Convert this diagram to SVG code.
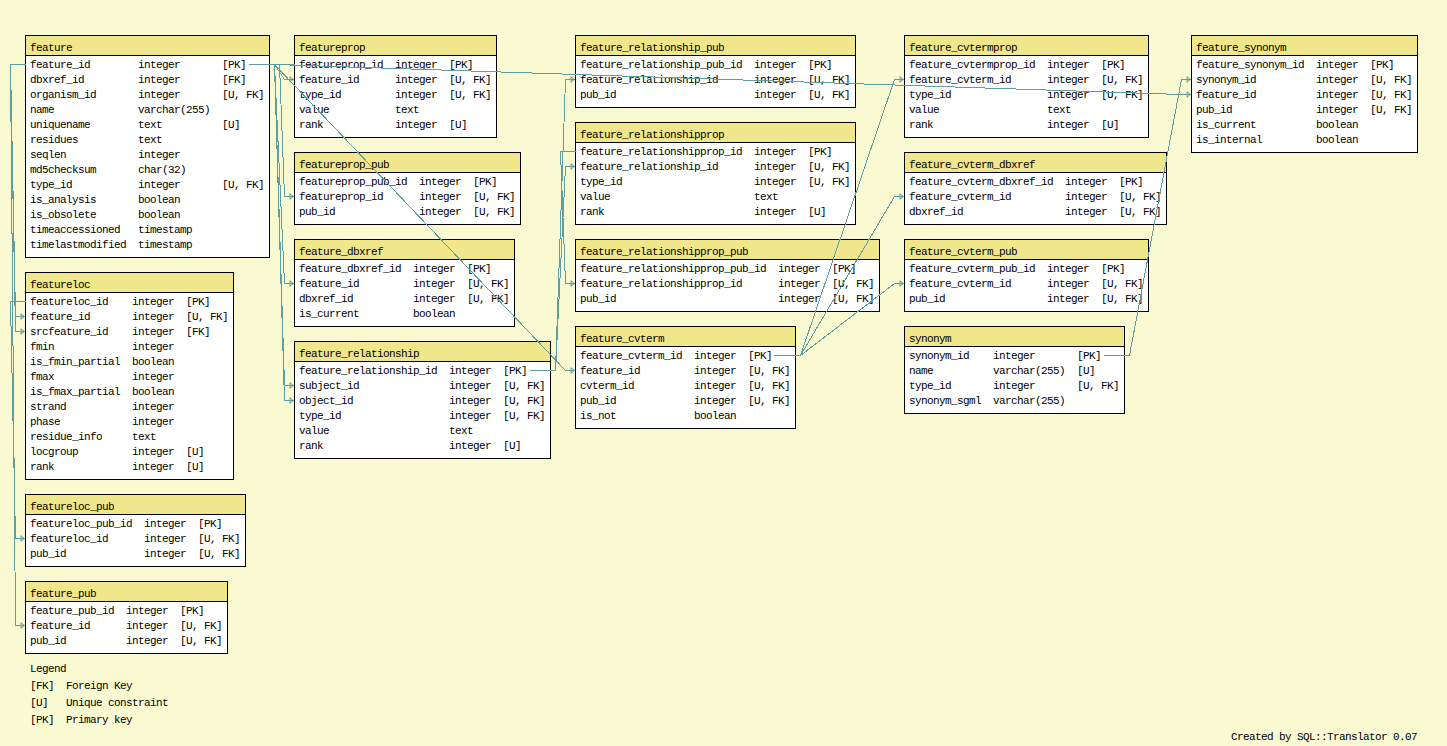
<svg xmlns="http://www.w3.org/2000/svg" width="1447" height="746" viewBox="0 0 1447 746">
  <style>
    .bg { fill: #FAFAD2; }
    .box { fill: #FFFFFF; stroke: #000000; stroke-width: 1; shape-rendering: crispEdges; }
    .hd { fill: #F0E68C; stroke: #000000; stroke-width: 1; shape-rendering: crispEdges; }
    text { font-family: "Liberation Mono", "DejaVu Sans Mono", monospace; font-size: 11px; letter-spacing: -0.6px; fill: #000000; }
    .rel { fill: none; stroke: #5F9EA0; stroke-width: 1; shape-rendering: crispEdges; }
  </style>
  <defs>
    <marker id="fk" viewBox="0 0 6 7" refX="5.5" refY="3.5" markerWidth="6" markerHeight="7" markerUnits="userSpaceOnUse" orient="auto">
      <path d="M1.5,0.5 L1.5,6.5 M1.5,1 L5,3.5 L1.5,6" fill="none" stroke="#5F9EA0" stroke-width="1"/>
    </marker>
  </defs>

  <rect class="bg" x="0" y="0" width="1447" height="746"/>

  <g id="feature">
    <rect class="box" x="25.5" y="35.5" width="244" height="222"/>
    <rect class="hd" x="25.5" y="35.5" width="244" height="20"/>
    <text x="30" y="51">feature</text>
    <text y="68"><tspan x="30">feature_id</tspan><tspan x="138">integer</tspan><tspan x="222">[PK]</tspan></text>
    <text y="83"><tspan x="30">dbxref_id</tspan><tspan x="138">integer</tspan><tspan x="222">[FK]</tspan></text>
    <text y="98"><tspan x="30">organism_id</tspan><tspan x="138">integer</tspan><tspan x="222">[U, FK]</tspan></text>
    <text y="113"><tspan x="30">name</tspan><tspan x="138">varchar(255)</tspan></text>
    <text y="128"><tspan x="30">uniquename</tspan><tspan x="138">text</tspan><tspan x="222">[U]</tspan></text>
    <text y="143"><tspan x="30">residues</tspan><tspan x="138">text</tspan></text>
    <text y="158"><tspan x="30">seqlen</tspan><tspan x="138">integer</tspan></text>
    <text y="173"><tspan x="30">md5checksum</tspan><tspan x="138">char(32)</tspan></text>
    <text y="188"><tspan x="30">type_id</tspan><tspan x="138">integer</tspan><tspan x="222">[U, FK]</tspan></text>
    <text y="203"><tspan x="30">is_analysis</tspan><tspan x="138">boolean</tspan></text>
    <text y="218"><tspan x="30">is_obsolete</tspan><tspan x="138">boolean</tspan></text>
    <text y="233"><tspan x="30">timeaccessioned</tspan><tspan x="138">timestamp</tspan></text>
    <text y="248"><tspan x="30">timelastmodified</tspan><tspan x="138">timestamp</tspan></text>
  </g>

  <g id="featureprop">
    <rect class="box" x="294.5" y="35.5" width="202" height="102"/>
    <rect class="hd" x="294.5" y="35.5" width="202" height="20"/>
    <text x="299" y="51">featureprop</text>
    <text y="68"><tspan x="299">featureprop_id</tspan><tspan x="395">integer</tspan><tspan x="449">[PK]</tspan></text>
    <text y="83"><tspan x="299">feature_id</tspan><tspan x="395">integer</tspan><tspan x="449">[U, FK]</tspan></text>
    <text y="98"><tspan x="299">type_id</tspan><tspan x="395">integer</tspan><tspan x="449">[U, FK]</tspan></text>
    <text y="113"><tspan x="299">value</tspan><tspan x="395">text</tspan></text>
    <text y="128"><tspan x="299">rank</tspan><tspan x="395">integer</tspan><tspan x="449">[U]</tspan></text>
  </g>

  <g id="featureprop_pub">
    <rect class="box" x="294.5" y="152.5" width="226" height="72"/>
    <rect class="hd" x="294.5" y="152.5" width="226" height="20"/>
    <text x="299" y="168">featureprop_pub</text>
    <text y="185"><tspan x="299">featureprop_pub_id</tspan><tspan x="419">integer</tspan><tspan x="473">[PK]</tspan></text>
    <text y="200"><tspan x="299">featureprop_id</tspan><tspan x="419">integer</tspan><tspan x="473">[U, FK]</tspan></text>
    <text y="215"><tspan x="299">pub_id</tspan><tspan x="419">integer</tspan><tspan x="473">[U, FK]</tspan></text>
  </g>

  <g id="feature_dbxref">
    <rect class="box" x="294.5" y="239.5" width="220" height="87"/>
    <rect class="hd" x="294.5" y="239.5" width="220" height="20"/>
    <text x="299" y="255">feature_dbxref</text>
    <text y="272"><tspan x="299">feature_dbxref_id</tspan><tspan x="413">integer</tspan><tspan x="467">[PK]</tspan></text>
    <text y="287"><tspan x="299">feature_id</tspan><tspan x="413">integer</tspan><tspan x="467">[U, FK]</tspan></text>
    <text y="302"><tspan x="299">dbxref_id</tspan><tspan x="413">integer</tspan><tspan x="467">[U, FK]</tspan></text>
    <text y="317"><tspan x="299">is_current</tspan><tspan x="413">boolean</tspan></text>
  </g>

  <g id="feature_relationship">
    <rect class="box" x="294.5" y="341.5" width="256" height="117"/>
    <rect class="hd" x="294.5" y="341.5" width="256" height="20"/>
    <text x="299" y="357">feature_relationship</text>
    <text y="374"><tspan x="299">feature_relationship_id</tspan><tspan x="449">integer</tspan><tspan x="503">[PK]</tspan></text>
    <text y="389"><tspan x="299">subject_id</tspan><tspan x="449">integer</tspan><tspan x="503">[U, FK]</tspan></text>
    <text y="404"><tspan x="299">object_id</tspan><tspan x="449">integer</tspan><tspan x="503">[U, FK]</tspan></text>
    <text y="419"><tspan x="299">type_id</tspan><tspan x="449">integer</tspan><tspan x="503">[U, FK]</tspan></text>
    <text y="434"><tspan x="299">value</tspan><tspan x="449">text</tspan></text>
    <text y="449"><tspan x="299">rank</tspan><tspan x="449">integer</tspan><tspan x="503">[U]</tspan></text>
  </g>

  <g id="featureloc">
    <rect class="box" x="25.5" y="272.5" width="208" height="207"/>
    <rect class="hd" x="25.5" y="272.5" width="208" height="20"/>
    <text x="30" y="288">featureloc</text>
    <text y="305"><tspan x="30">featureloc_id</tspan><tspan x="132">integer</tspan><tspan x="186">[PK]</tspan></text>
    <text y="320"><tspan x="30">feature_id</tspan><tspan x="132">integer</tspan><tspan x="186">[U, FK]</tspan></text>
    <text y="335"><tspan x="30">srcfeature_id</tspan><tspan x="132">integer</tspan><tspan x="186">[FK]</tspan></text>
    <text y="350"><tspan x="30">fmin</tspan><tspan x="132">integer</tspan></text>
    <text y="365"><tspan x="30">is_fmin_partial</tspan><tspan x="132">boolean</tspan></text>
    <text y="380"><tspan x="30">fmax</tspan><tspan x="132">integer</tspan></text>
    <text y="395"><tspan x="30">is_fmax_partial</tspan><tspan x="132">boolean</tspan></text>
    <text y="410"><tspan x="30">strand</tspan><tspan x="132">integer</tspan></text>
    <text y="425"><tspan x="30">phase</tspan><tspan x="132">integer</tspan></text>
    <text y="440"><tspan x="30">residue_info</tspan><tspan x="132">text</tspan></text>
    <text y="455"><tspan x="30">locgroup</tspan><tspan x="132">integer</tspan><tspan x="186">[U]</tspan></text>
    <text y="470"><tspan x="30">rank</tspan><tspan x="132">integer</tspan><tspan x="186">[U]</tspan></text>
  </g>

  <g id="featureloc_pub">
    <rect class="box" x="25.5" y="494.5" width="220" height="72"/>
    <rect class="hd" x="25.5" y="494.5" width="220" height="20"/>
    <text x="30" y="510">featureloc_pub</text>
    <text y="527"><tspan x="30">featureloc_pub_id</tspan><tspan x="144">integer</tspan><tspan x="198">[PK]</tspan></text>
    <text y="542"><tspan x="30">featureloc_id</tspan><tspan x="144">integer</tspan><tspan x="198">[U, FK]</tspan></text>
    <text y="557"><tspan x="30">pub_id</tspan><tspan x="144">integer</tspan><tspan x="198">[U, FK]</tspan></text>
  </g>

  <g id="feature_pub">
    <rect class="box" x="25.5" y="581.5" width="202" height="72"/>
    <rect class="hd" x="25.5" y="581.5" width="202" height="20"/>
    <text x="30" y="597">feature_pub</text>
    <text y="614"><tspan x="30">feature_pub_id</tspan><tspan x="126">integer</tspan><tspan x="180">[PK]</tspan></text>
    <text y="629"><tspan x="30">feature_id</tspan><tspan x="126">integer</tspan><tspan x="180">[U, FK]</tspan></text>
    <text y="644"><tspan x="30">pub_id</tspan><tspan x="126">integer</tspan><tspan x="180">[U, FK]</tspan></text>
  </g>

  <g id="feature_relationship_pub">
    <rect class="box" x="575.5" y="35.5" width="280" height="72"/>
    <rect class="hd" x="575.5" y="35.5" width="280" height="20"/>
    <text x="580" y="51">feature_relationship_pub</text>
    <text y="68"><tspan x="580">feature_relationship_pub_id</tspan><tspan x="754">integer</tspan><tspan x="808">[PK]</tspan></text>
    <text y="83"><tspan x="580">feature_relationship_id</tspan><tspan x="754">integer</tspan><tspan x="808">[U, FK]</tspan></text>
    <text y="98"><tspan x="580">pub_id</tspan><tspan x="754">integer</tspan><tspan x="808">[U, FK]</tspan></text>
  </g>

  <g id="feature_relationshipprop">
    <rect class="box" x="575.5" y="122.5" width="280" height="102"/>
    <rect class="hd" x="575.5" y="122.5" width="280" height="20"/>
    <text x="580" y="138">feature_relationshipprop</text>
    <text y="155"><tspan x="580">feature_relationshipprop_id</tspan><tspan x="754">integer</tspan><tspan x="808">[PK]</tspan></text>
    <text y="170"><tspan x="580">feature_relationship_id</tspan><tspan x="754">integer</tspan><tspan x="808">[U, FK]</tspan></text>
    <text y="185"><tspan x="580">type_id</tspan><tspan x="754">integer</tspan><tspan x="808">[U, FK]</tspan></text>
    <text y="200"><tspan x="580">value</tspan><tspan x="754">text</tspan></text>
    <text y="215"><tspan x="580">rank</tspan><tspan x="754">integer</tspan><tspan x="808">[U]</tspan></text>
  </g>

  <g id="feature_relationshipprop_pub">
    <rect class="box" x="575.5" y="239.5" width="304" height="72"/>
    <rect class="hd" x="575.5" y="239.5" width="304" height="20"/>
    <text x="580" y="255">feature_relationshipprop_pub</text>
    <text y="272"><tspan x="580">feature_relationshipprop_pub_id</tspan><tspan x="778">integer</tspan><tspan x="832">[PK]</tspan></text>
    <text y="287"><tspan x="580">feature_relationshipprop_id</tspan><tspan x="778">integer</tspan><tspan x="832">[U, FK]</tspan></text>
    <text y="302"><tspan x="580">pub_id</tspan><tspan x="778">integer</tspan><tspan x="832">[U, FK]</tspan></text>
  </g>

  <g id="feature_cvterm">
    <rect class="box" x="575.5" y="326.5" width="220" height="102"/>
    <rect class="hd" x="575.5" y="326.5" width="220" height="20"/>
    <text x="580" y="342">feature_cvterm</text>
    <text y="359"><tspan x="580">feature_cvterm_id</tspan><tspan x="694">integer</tspan><tspan x="748">[PK]</tspan></text>
    <text y="374"><tspan x="580">feature_id</tspan><tspan x="694">integer</tspan><tspan x="748">[U, FK]</tspan></text>
    <text y="389"><tspan x="580">cvterm_id</tspan><tspan x="694">integer</tspan><tspan x="748">[U, FK]</tspan></text>
    <text y="404"><tspan x="580">pub_id</tspan><tspan x="694">integer</tspan><tspan x="748">[U, FK]</tspan></text>
    <text y="419"><tspan x="580">is_not</tspan><tspan x="694">boolean</tspan></text>
  </g>

  <g id="feature_cvtermprop">
    <rect class="box" x="904.5" y="35.5" width="244" height="102"/>
    <rect class="hd" x="904.5" y="35.5" width="244" height="20"/>
    <text x="909" y="51">feature_cvtermprop</text>
    <text y="68"><tspan x="909">feature_cvtermprop_id</tspan><tspan x="1047">integer</tspan><tspan x="1101">[PK]</tspan></text>
    <text y="83"><tspan x="909">feature_cvterm_id</tspan><tspan x="1047">integer</tspan><tspan x="1101">[U, FK]</tspan></text>
    <text y="98"><tspan x="909">type_id</tspan><tspan x="1047">integer</tspan><tspan x="1101">[U, FK]</tspan></text>
    <text y="113"><tspan x="909">value</tspan><tspan x="1047">text</tspan></text>
    <text y="128"><tspan x="909">rank</tspan><tspan x="1047">integer</tspan><tspan x="1101">[U]</tspan></text>
  </g>

  <g id="feature_cvterm_dbxref">
    <rect class="box" x="904.5" y="152.5" width="262" height="72"/>
    <rect class="hd" x="904.5" y="152.5" width="262" height="20"/>
    <text x="909" y="168">feature_cvterm_dbxref</text>
    <text y="185"><tspan x="909">feature_cvterm_dbxref_id</tspan><tspan x="1065">integer</tspan><tspan x="1119">[PK]</tspan></text>
    <text y="200"><tspan x="909">feature_cvterm_id</tspan><tspan x="1065">integer</tspan><tspan x="1119">[U, FK]</tspan></text>
    <text y="215"><tspan x="909">dbxref_id</tspan><tspan x="1065">integer</tspan><tspan x="1119">[U, FK]</tspan></text>
  </g>

  <g id="feature_cvterm_pub">
    <rect class="box" x="904.5" y="239.5" width="244" height="72"/>
    <rect class="hd" x="904.5" y="239.5" width="244" height="20"/>
    <text x="909" y="255">feature_cvterm_pub</text>
    <text y="272"><tspan x="909">feature_cvterm_pub_id</tspan><tspan x="1047">integer</tspan><tspan x="1101">[PK]</tspan></text>
    <text y="287"><tspan x="909">feature_cvterm_id</tspan><tspan x="1047">integer</tspan><tspan x="1101">[U, FK]</tspan></text>
    <text y="302"><tspan x="909">pub_id</tspan><tspan x="1047">integer</tspan><tspan x="1101">[U, FK]</tspan></text>
  </g>

  <g id="synonym">
    <rect class="box" x="904.5" y="326.5" width="220" height="87"/>
    <rect class="hd" x="904.5" y="326.5" width="220" height="20"/>
    <text x="909" y="342">synonym</text>
    <text y="359"><tspan x="909">synonym_id</tspan><tspan x="993">integer</tspan><tspan x="1077">[PK]</tspan></text>
    <text y="374"><tspan x="909">name</tspan><tspan x="993">varchar(255)</tspan><tspan x="1077">[U]</tspan></text>
    <text y="389"><tspan x="909">type_id</tspan><tspan x="993">integer</tspan><tspan x="1077">[U, FK]</tspan></text>
    <text y="404"><tspan x="909">synonym_sgml</tspan><tspan x="993">varchar(255)</tspan></text>
  </g>

  <g id="feature_synonym">
    <rect class="box" x="1191.5" y="35.5" width="226" height="117"/>
    <rect class="hd" x="1191.5" y="35.5" width="226" height="20"/>
    <text x="1196" y="51">feature_synonym</text>
    <text y="68"><tspan x="1196">feature_synonym_id</tspan><tspan x="1316">integer</tspan><tspan x="1370">[PK]</tspan></text>
    <text y="83"><tspan x="1196">synonym_id</tspan><tspan x="1316">integer</tspan><tspan x="1370">[U, FK]</tspan></text>
    <text y="98"><tspan x="1196">feature_id</tspan><tspan x="1316">integer</tspan><tspan x="1370">[U, FK]</tspan></text>
    <text y="113"><tspan x="1196">pub_id</tspan><tspan x="1316">integer</tspan><tspan x="1370">[U, FK]</tspan></text>
    <text y="128"><tspan x="1196">is_current</tspan><tspan x="1316">boolean</tspan></text>
    <text y="143"><tspan x="1196">is_internal</tspan><tspan x="1316">boolean</tspan></text>
  </g>

  <!-- relationship lines, drawn over the tables: primary key to foreign key -->
  <g id="connectors">
    <polyline class="rel" points="248.5,64.5 274.5,64.5 284.5,79.5 294,79.5" marker-end="url(#fk)"/>
    <polyline class="rel" points="274.5,64.5 284.5,283.5 294,283.5" marker-end="url(#fk)"/>
    <polyline class="rel" points="274.5,64.5 284.5,385.5 294,385.5" marker-end="url(#fk)"/>
    <polyline class="rel" points="274.5,64.5 284.5,400.5 294,400.5" marker-end="url(#fk)"/>
    <polyline class="rel" points="274.5,64.5 565.5,370.5 575,370.5" marker-end="url(#fk)"/>
    <polyline class="rel" points="274.5,64.5 1181.5,94.5 1191,94.5" marker-end="url(#fk)"/>
    <polyline class="rel" points="25.5,64.5 10.5,64.5 15.5,316.5 25,316.5" marker-end="url(#fk)"/>
    <polyline class="rel" points="10.5,64.5 15.5,331.5 25,331.5" marker-end="url(#fk)"/>
    <polyline class="rel" points="10.5,64.5 15.5,625.5 25,625.5" marker-end="url(#fk)"/>
    <polyline class="rel" points="25.5,301.5 10.5,301.5 15.5,538.5 25,538.5" marker-end="url(#fk)"/>
    <polyline class="rel" points="294.5,64.5 279.5,64.5 284.5,196.5 294,196.5" marker-end="url(#fk)"/>
    <polyline class="rel" points="529.5,370.5 555.5,370.5 565.5,79.5 575,79.5" marker-end="url(#fk)"/>
    <polyline class="rel" points="555.5,370.5 565.5,166.5 575,166.5" marker-end="url(#fk)"/>
    <polyline class="rel" points="575.5,151.5 560.5,151.5 565.5,283.5 575,283.5" marker-end="url(#fk)"/>
    <polyline class="rel" points="773.5,355.5 800.5,355.5 894.5,79.5 904,79.5" marker-end="url(#fk)"/>
    <polyline class="rel" points="800.5,355.5 894.5,196.5 904,196.5" marker-end="url(#fk)"/>
    <polyline class="rel" points="800.5,355.5 894.5,283.5 904,283.5" marker-end="url(#fk)"/>
    <polyline class="rel" points="1103.5,355.5 1129.5,355.5 1181.5,79.5 1191,79.5" marker-end="url(#fk)"/>
  </g>

  <g id="legend">
    <text x="30" y="672">Legend</text>
    <text y="689"><tspan x="30">[FK]</tspan><tspan x="66">Foreign Key</tspan></text>
    <text y="706"><tspan x="30">[U]</tspan><tspan x="66">Unique constraint</tspan></text>
    <text y="723"><tspan x="30">[PK]</tspan><tspan x="66">Primary key</tspan></text>
  </g>

  <text id="credit" x="1231" y="740">Created by SQL::Translator 0.07</text>
</svg>
